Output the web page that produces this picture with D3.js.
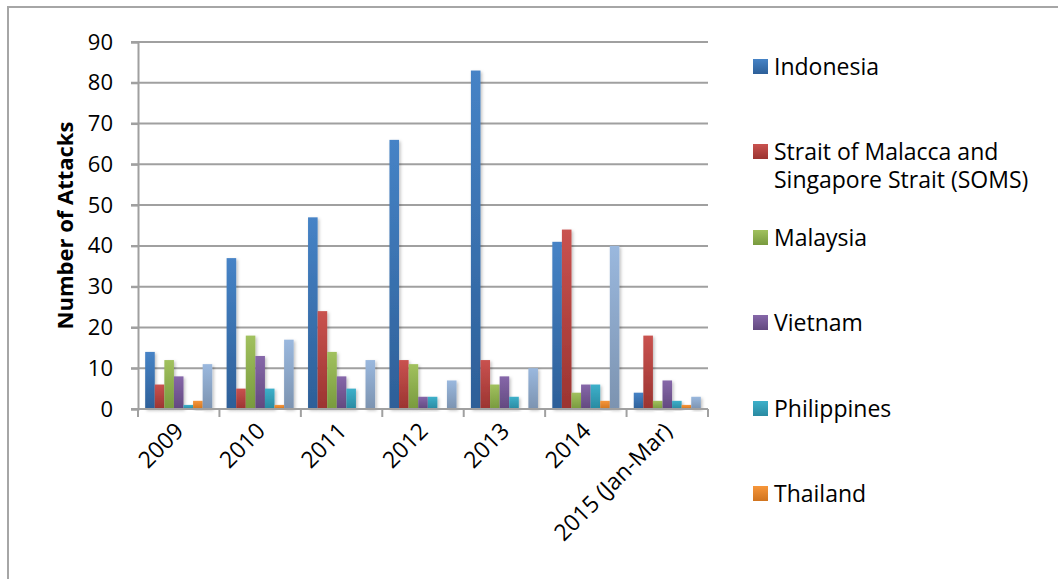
<!DOCTYPE html>
<html>
<head>
<meta charset="utf-8">
<script src="https://cdn.jsdelivr.net/npm/d3@7"></script>
<style>
  body { margin: 0; background: #fff; }
  svg { display: block; font-family: "Open Sans", sans-serif; }
</style>
</head>
<body>
<svg id="chart" width="1058" height="579"></svg>
<script>
// categories and series
var years = ["2009", "2010", "2011", "2012", "2013", "2014", "2015 (Jan-Mar)"];
var seriesNames = ["Indonesia", "Strait of Malacca and Singapore Strait (SOMS)", "Malaysia",
                   "Vietnam", "Philippines", "Thailand", "Other"];
var indonesia   = [14, 37, 47, 66, 83, 41, 4];
var soms        = [6, 5, 24, 12, 12, 44, 18];
var malaysia    = [12, 18, 14, 11, 6, 4, 2];
var vietnam     = [8, 13, 8, 3, 8, 6, 7];
var philippines = [1, 5, 5, 3, 3, 6, 2];
var thailand    = [2, 1, 0, 0, 0, 2, 1];
var other       = [11, 17, 12, 7, 10, 40, 3];
var yTicks = [0, 10, 20, 30, 40, 50, 60, 70, 80, 90];
// legend only shows the first six, the seventh falls off the bottom
var legendLines = [["Indonesia"], ["Strait of Malacca and", "Singapore Strait (SOMS)"], ["Malaysia"],
                   ["Vietnam"], ["Philippines"], ["Thailand"]];

var allSeries = [indonesia, soms, malaysia, vietnam, philippines, thailand, other];
var topColors = ["#4683c6", "#c9524f", "#a1c15e", "#8667a9", "#3db0ca", "#f7963a", "#9ab8de"];
var botColors = ["#2d5f98", "#9b3431", "#789a3e", "#62497f", "#2a8aa1", "#d0741f", "#7c93b0"];

var svg = d3.select("#chart");
var plotLeft = 138, plotRight = 708, plotTop = 42, plotBottom = 409;

var x0 = d3.scaleBand().domain(years).range([plotLeft, plotRight]).paddingInner(0).paddingOuter(0);
var x1 = d3.scaleBand().domain(d3.range(allSeries.length)).range([0, x0.bandwidth()])
           .paddingInner(0).paddingOuter(0.75);
var y = d3.scaleLinear().domain([0, 90]).range([plotBottom, plotTop]);

// gradients
var defs = svg.append("defs");
topColors.forEach(function(c, i) {
	var g = defs.append("linearGradient").attr("id", "grad" + i)
		.attr("x1", 0).attr("y1", 0).attr("x2", 0).attr("y2", 1);
	g.append("stop").attr("offset", "0%").attr("stop-color", c);
	g.append("stop").attr("offset", "100%").attr("stop-color", botColors[i]);
});
var shadow = defs.append("filter").attr("id", "shadow")
	.attr("x", "-50%").attr("y", "-10%").attr("width", "200%").attr("height", "130%");
shadow.append("feDropShadow").attr("dx", 1.5).attr("dy", 1.5).attr("stdDeviation", 1.5)
	.attr("flood-color", "#000").attr("flood-opacity", 0.25);

// outer frame
svg.append("path").attr("d", "M8,579 L8,7 L1058,7")
	.attr("fill", "none").attr("stroke", "#a6a6a6").attr("stroke-width", 2);

// gridlines
svg.append("g").selectAll("line").data(yTicks).join("line")
	.attr("x1", plotLeft - 7).attr("x2", plotRight)
	.attr("y1", function(d) { return y(d); }).attr("y2", function(d) { return y(d); })
	.attr("stroke", "#a0a0a0").attr("stroke-width", 2);

// y axis
var yAxis = svg.append("g").attr("transform", "translate(" + plotLeft + ",0)")
	.call(d3.axisLeft(y).tickValues(yTicks).tickSize(7).tickPadding(18));
yAxis.select(".domain").attr("stroke", "#a0a0a0").attr("stroke-width", 2);
yAxis.selectAll(".tick line").attr("stroke", "#a0a0a0").attr("stroke-width", 2);
yAxis.selectAll("text").attr("font-size", 22).attr("fill", "#000")
	.attr("font-family", "'Open Sans', sans-serif");

svg.append("text")
	.attr("transform", "translate(73," + ((plotTop + plotBottom) / 2) + ") rotate(-90)")
	.attr("text-anchor", "middle").attr("font-size", 22).attr("font-weight", "bold")
	.text("Number of Attacks");

// bars
var groups = svg.append("g").selectAll("g").data(years).join("g")
	.attr("transform", function(d) { return "translate(" + x0(d) + ",0)"; });
groups.selectAll("rect")
	.data(function(d, i) { return allSeries.map(function(s, k) { return { k: k, v: s[i] }; }); })
	.join("rect")
	.filter(function(d) { return d.v > 0; })
	.attr("x", function(d) { return x1(d.k); })
	.attr("width", x1.bandwidth())
	.attr("y", function(d) { return y(d.v); })
	.attr("height", function(d) { return y(0) - y(d.v); })
	.attr("fill", function(d) { return "url(#grad" + d.k + ")"; })
	.attr("filter", "url(#shadow)");

// x axis
var xTickPos = years.map(function(d) { return x0(d); }).concat([plotRight]);
svg.append("line").attr("x1", plotLeft).attr("x2", plotRight).attr("y1", plotBottom).attr("y2", plotBottom)
	.attr("stroke", "#a0a0a0").attr("stroke-width", 2);
svg.append("g").selectAll("line").data(xTickPos).join("line")
	.attr("x1", function(d) { return d; }).attr("x2", function(d) { return d; })
	.attr("y1", plotBottom).attr("y2", plotBottom + 8)
	.attr("stroke", "#a0a0a0").attr("stroke-width", 2);
svg.append("g").selectAll("text").data(years).join("text")
	.attr("transform", function(d) {
		return "translate(" + (x0(d) + x0.bandwidth() / 2 - 5) + "," + (plotBottom + 12) + ") rotate(-45)";
	})
	.attr("text-anchor", "end").attr("dy", "0.7em").attr("font-size", 23)
	.text(function(d) { return d; });

// legend
var legY = [67, 152, 238, 323, 409, 494];
var leg = svg.append("g").selectAll("g").data(legendLines).join("g")
	.attr("transform", function(d, i) { return "translate(753," + legY[i] + ")"; });
leg.append("rect").attr("x", 0).attr("y", -8).attr("width", 15).attr("height", 15)
	.attr("fill", function(d, i) { return "url(#grad" + i + ")"; });
leg.append("text").attr("x", 21).attr("font-size", 23)
	.selectAll("tspan").data(function(d) { return d; }).join("tspan")
	.attr("x", 21).attr("y", function(d, i) { return i * 28; }).attr("dy", "0.35em")
	.text(function(d) { return d; });
</script>
</body>
</html>
